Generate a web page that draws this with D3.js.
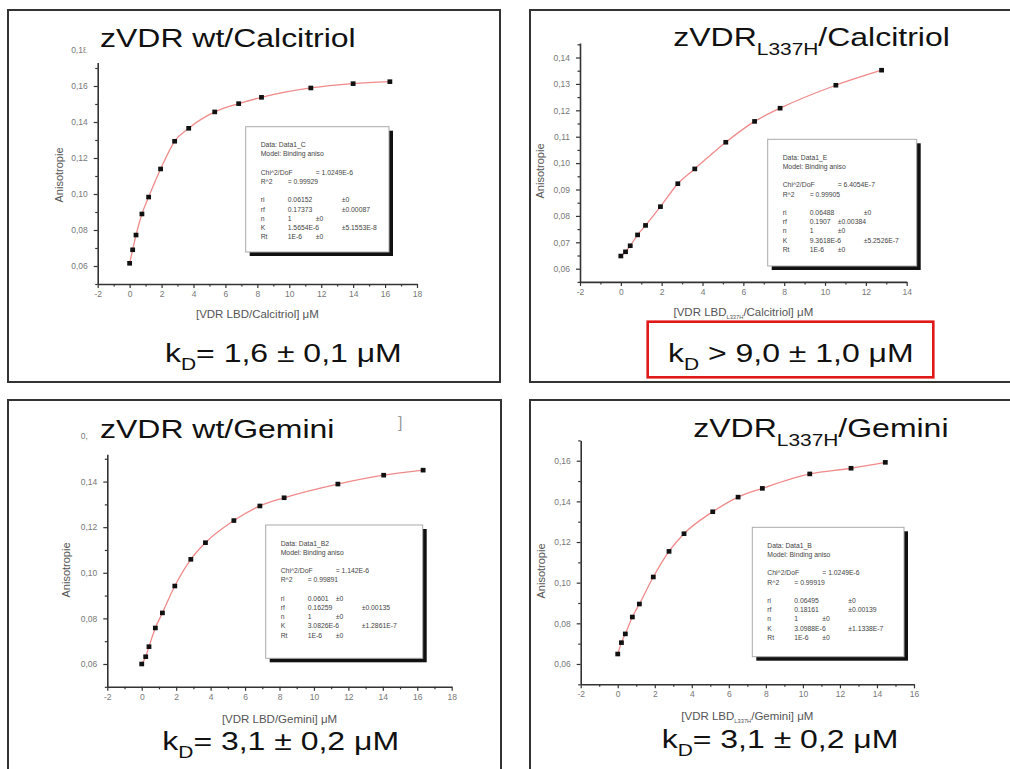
<!DOCTYPE html>
<html>
<head>
<meta charset="utf-8">
<script src="https://cdn.jsdelivr.net/npm/d3@7"></script>
<style>
body { margin: 0; background: #fff; }
svg { display: block; }
text { font-family: "Liberation Sans", Arial, sans-serif; white-space: pre; }
</style>
</head>
<body>
<svg id="chart" width="1010" height="769"></svg>
<script>
// ---- data ----
var tlConc  = [0, 0.19, 0.40, 0.77, 1.19, 1.94, 2.82, 3.70, 5.33, 6.83, 8.26, 11.35, 14.0, 16.3];
var tlAniso = [0.0615, 0.0690, 0.0772, 0.0889, 0.0983, 0.1139, 0.1293, 0.1365, 0.1456, 0.1502, 0.1537, 0.1589, 0.1613, 0.1624];
var trConc  = [0, 0.23, 0.46, 0.82, 1.21, 1.94, 2.79, 3.62, 5.14, 6.55, 7.80, 10.53, 12.77];
var trAniso = [0.0648, 0.0664, 0.0687, 0.0728, 0.0764, 0.0835, 0.0922, 0.0978, 0.1079, 0.1158, 0.1208, 0.1295, 0.1352];
var blConc  = [0, 0.23, 0.42, 0.79, 1.20, 1.92, 2.85, 3.70, 5.35, 6.86, 8.27, 11.39, 14.05, 16.34];
var blAniso = [0.0600, 0.0632, 0.0676, 0.0758, 0.0824, 0.0942, 0.1059, 0.1132, 0.1229, 0.1293, 0.1329, 0.1389, 0.1428, 0.1450];
var brConc  = [0, 0.20, 0.41, 0.79, 1.17, 1.92, 2.77, 3.58, 5.13, 6.50, 7.81, 10.37, 12.60, 14.45];
var brAniso = [0.0649, 0.0705, 0.0748, 0.0831, 0.0895, 0.1028, 0.1154, 0.1241, 0.1349, 0.1421, 0.1464, 0.1535, 0.1563, 0.1592];

var tlXTicks = [-2, 0, 2, 4, 6, 8, 10, 12, 14, 16, 18];
var trXTicks = [-2, 0, 2, 4, 6, 8, 10, 12, 14];
var blXTicks = [-2, 0, 2, 4, 6, 8, 10, 12, 14, 16, 18];
var brXTicks = [-2, 0, 2, 4, 6, 8, 10, 12, 14, 16];
var tlYTicks = [0.06, 0.08, 0.10, 0.12, 0.14, 0.16];
var trYTicks = [0.06, 0.07, 0.08, 0.09, 0.10, 0.11, 0.12, 0.13, 0.14];
var blYTicks = [0.06, 0.08, 0.10, 0.12, 0.14];
var brYTicks = [0.06, 0.08, 0.10, 0.12, 0.14, 0.16];
// labels of the tick just above the axis, half hidden behind the title
var cutLabels = [0.18, null, 0.16, null];

var titleMain = ["zVDR wt/Calcitriol", "zVDR", "zVDR wt/Gemini", "zVDR"];
var titleSub  = ["", "L337H", "", "L337H"];
var titleRest = ["", "/Calcitriol", "", "/Gemini"];
var xLabelMain = ["[VDR LBD/Calcitriol] \u03bcM", "[VDR LBD", "[VDR LBD/Gemini] \u03bcM", "[VDR LBD"];
var xLabelSub  = ["", "L337H", "", "L337H"];
var xLabelRest = ["", "/Calcitriol] \u03bcM", "", "/Gemini] \u03bcM"];
var yLabel = "Anisotropie";
var kdRest = ["= 1,6 \u00b1 0,1 \u03bcM", " > 9,0 \u00b1 1,0 \u03bcM", "= 3,1 \u00b1 0,2 \u03bcM", "= 3,1 \u00b1 0,2 \u03bcM"];

var tlInfo = [["Data: Data1_C"], ["Model: Binding aniso"], [], ["Chi^2/DoF", "", "= 1.0249E-6"], ["R^2", "= 0.99929"], [],
  ["ri", "0.06152", "", "\u00b10"], ["rf", "0.17373", "", "\u00b10.00087"], ["n", "1", "\u00b10"], ["K", "1.5654E-6", "", "\u00b15.1553E-8"], ["Rt", "1E-6", "\u00b10"]];
var trInfo = [["Data: Data1_E"], ["Model: Binding aniso"], [], ["Chi^2/DoF", "", "= 6.4054E-7"], ["R^2", "= 0.99905"], [],
  ["ri", "0.06488", "", "\u00b10"], ["rf", "0.1907", "\u00b10.00384"], ["n", "1", "\u00b10"], ["K", "9.3618E-6", "", "\u00b15.2526E-7"], ["Rt", "1E-6", "\u00b10"]];
var blInfo = [["Data: Data1_B2"], ["Model: Binding aniso"], [], ["Chi^2/DoF", "", "= 1.142E-6"], ["R^2", "= 0.99891"], [],
  ["ri", "0.0601", "\u00b10"], ["rf", "0.16259", "", "\u00b10.00135"], ["n", "1", "\u00b10"], ["K", "3.0826E-6", "", "\u00b11.2861E-7"], ["Rt", "1E-6", "\u00b10"]];
var brInfo = [["Data: Data1_B"], ["Model: Binding aniso"], [], ["Chi^2/DoF", "", "= 1.0249E-6"], ["R^2", "= 0.99919"], [],
  ["ri", "0.06495", "", "\u00b10"], ["rf", "0.18161", "", "\u00b10.00139"], ["n", "1", "\u00b10"], ["K", "3.0988E-6", "", "\u00b11.1338E-7"], ["Rt", "1E-6", "\u00b10"]];

// ---- layout ----
var panels = [
  { conc: tlConc, aniso: tlAniso, xTicks: tlXTicks, yTicks: tlYTicks, info: tlInfo,
    xDom: [-2, 18], xr: [97.7, 417], yDom: [0.05, 0.173], yr: [284, 62.6],
    frame: [8, 10, 492, 372], title: [100, 46.5], cover: 85.5, kd: [165, 362], xl: 318, yl: [63, 175],
    box: [245.7, 126.7, 143.3, 125.3] },
  { conc: trConc, aniso: trAniso, xTicks: trXTicks, yTicks: trYTicks, info: trInfo,
    xDom: [-2, 14], xr: [580, 906.7], yDom: [0.055, 0.1455], yr: [281.9, 43],
    frame: [530, 10, 500, 372], title: [673.3, 46], cover: null, kd: [668, 361.7], xl: 316, yl: [544, 171],
    box: [767.7, 139.3, 149, 126.7] },
  { conc: blConc, aniso: blAniso, xTicks: blXTicks, yTicks: blYTicks, info: blInfo,
    xDom: [-2, 18], xr: [107.3, 451.7], yDom: [0.05, 0.152], yr: [686.8, 454.2],
    frame: [8, 400, 493, 420], title: [100, 437.5], cover: 88, kd: [162.3, 750], xl: 723, yl: [70, 570],
    box: [265.7, 525, 157, 133.3] },
  { conc: brConc, aniso: brAniso, xTicks: brXTicks, yTicks: brYTicks, info: brInfo,
    xDom: [-2, 16], xr: [580.7, 914], yDom: [0.05, 0.17], yr: [684.3, 440.4],
    frame: [530, 400, 500, 420], title: [693.3, 436.5], cover: null, kd: [661.7, 748.3], xl: 720, yl: [544.5, 571],
    box: [752.3, 527.3, 151.7, 129.4] }
];

var svg = d3.select("#chart");
svg.append("rect").attr("width", 1010).attr("height", 769).attr("fill", "#fff");

var commaFmt = function (d) { return d3.format(".2f")(d).replace(".", ","); };
var tabs = [0, 27, 55, 81];

// text squeezed like the (horizontally stretched) original
function stext(parent, x, y, sx) {
  return parent.append("g").attr("transform", "translate(" + x + "," + y + ") scale(" + sx + ",1)").append("text");
}

function minors(ticks, dom) {
  var step = ticks[1] - ticks[0], out = [];
  for (var i = -1; i < ticks.length; i++) {
    var m = (i < 0 ? ticks[0] - step / 2 : ticks[i] + step / 2);
    if (m >= dom[0] - 1e-9 && m <= dom[1] + 1e-9) out.push(m);
  }
  return out;
}

panels.forEach(function (p, i) {
  var g = svg.append("g");
  var x = d3.scaleLinear().domain(p.xDom).range(p.xr);
  var y = d3.scaleLinear().domain(p.yDom).range(p.yr);

  g.append("rect").attr("x", p.frame[0]).attr("y", p.frame[1]).attr("width", p.frame[2]).attr("height", p.frame[3])
    .attr("fill", "none").attr("stroke", "#333").attr("stroke-width", 2);

  // axes
  var xa = g.append("g").attr("transform", "translate(0," + p.yr[0] + ")")
    .call(d3.axisBottom(x).tickValues(p.xTicks).tickSize(4).tickSizeOuter(0).tickPadding(3).tickFormat(function (d) { return String(d); }));
  g.append("g").attr("transform", "translate(0," + p.yr[0] + ")")
    .call(d3.axisBottom(x).tickValues(minors(p.xTicks, p.xDom)).tickSize(2.5).tickFormat(""))
    .select(".domain").remove();
  var ya = g.append("g").attr("transform", "translate(" + p.xr[0] + ",0)")
    .call(d3.axisLeft(y).tickValues(p.yTicks).tickSize(4).tickSizeOuter(0).tickPadding(6).tickFormat(commaFmt));
  g.append("g").attr("transform", "translate(" + p.xr[0] + ",0)")
    .call(d3.axisLeft(y).tickValues(minors(p.yTicks, p.yDom)).tickSize(2.5).tickFormat(""))
    .select(".domain").remove();
  g.selectAll(".domain").attr("stroke", "#333").attr("stroke-width", 1.6);
  g.selectAll(".tick line").attr("stroke", "#333").attr("stroke-width", 1.2);
  g.selectAll(".tick text").attr("fill", "#777").attr("font-size", 8.5).attr("font-family", "'Liberation Sans', Arial, sans-serif");

  if (cutLabels[i] !== null) {
    g.append("text").attr("x", p.xr[0] - 10).attr("y", y(cutLabels[i])).attr("dy", "0.32em")
      .attr("text-anchor", "end").attr("font-size", 8.5).attr("fill", "#777").text(commaFmt(cutLabels[i]));
    g.append("rect").attr("x", p.cover).attr("y", p.title[1] - 22).attr("width", 270).attr("height", 28).attr("fill", "#fff");
  }

  // axis titles
  var yt = g.append("text").attr("transform", "translate(" + p.yl[0] + "," + p.yl[1] + ") rotate(-90)")
    .attr("text-anchor", "middle").attr("font-size", 11).attr("fill", "#555").text(yLabel);
  var xt = stext(g, (p.xr[0] + p.xr[1]) / 2, p.xl, 1.15).attr("text-anchor", "middle").attr("font-size", 10).attr("fill", "#555");
  xt.append("tspan").text(xLabelMain[i]);
  if (xLabelSub[i]) {
    xt.append("tspan").attr("font-size", 5).attr("dy", 3).text(xLabelSub[i]);
    xt.append("tspan").attr("dy", -3).text(xLabelRest[i]);
  }

  // fitted curve and points
  var pts = p.conc.map(function (c, k) { return [c, p.aniso[k]]; });
  g.append("path").datum(pts)
    .attr("d", d3.line().x(function (d) { return x(d[0]); }).y(function (d) { return y(d[1]); }).curve(d3.curveMonotoneX))
    .attr("fill", "none").attr("stroke", "#f08a8a").attr("stroke-width", 1.3);
  g.selectAll("rect.pt").data(pts).enter().append("rect").attr("class", "pt")
    .attr("x", function (d) { return x(d[0]) - 2.4; }).attr("y", function (d) { return y(d[1]) - 2.3; })
    .attr("width", 4.8).attr("height", 4.6).attr("fill", "#111");

  // fit report box
  var b = p.box;
  g.append("rect").attr("x", b[0] + 4).attr("y", b[1] + 4).attr("width", b[2]).attr("height", b[3]).attr("fill", "#111");
  g.append("rect").attr("x", b[0]).attr("y", b[1]).attr("width", b[2]).attr("height", b[3])
    .attr("fill", "#fff").attr("stroke", "#aaa").attr("stroke-width", 1);
  p.info.forEach(function (line, li) {
    line.forEach(function (cell, ci) {
      if (!cell) return;
      g.append("text").attr("x", b[0] + 15 + tabs[ci]).attr("y", b[1] + 20.5 + li * 9.2)
        .attr("font-size", 6.8).attr("fill", "#444").text(cell);
    });
  });

  // panel title
  var tt = stext(g, p.title[0], p.title[1], 1.23).attr("font-size", 26).attr("fill", "#111");
  tt.append("tspan").text(titleMain[i]);
  if (titleSub[i]) {
    tt.append("tspan").attr("font-size", 17).attr("dy", 9).text(titleSub[i]);
    tt.append("tspan").attr("dy", -9).text(titleRest[i]);
  }

  // dissociation constant
  var kt = stext(g, p.kd[0], p.kd[1], 1.23).attr("font-size", 26).attr("fill", "#111");
  kt.append("tspan").text("k");
  kt.append("tspan").attr("font-size", 17).attr("dy", 8).text("D");
  kt.append("tspan").attr("dy", -8).text(kdRest[i]);
});

// highlight around the mutant calcitriol constant
svg.append("rect").attr("x", 647.7).attr("y", 321.7).attr("width", 285.6).attr("height", 55.6)
  .attr("fill", "none").attr("stroke", "#e01818").attr("stroke-width", 2.6);

// stray bracket in the lower left panel
svg.append("text").attr("x", 398).attr("y", 428).attr("font-size", 16).attr("fill", "#999").text("]");
</script>
</body>
</html>
